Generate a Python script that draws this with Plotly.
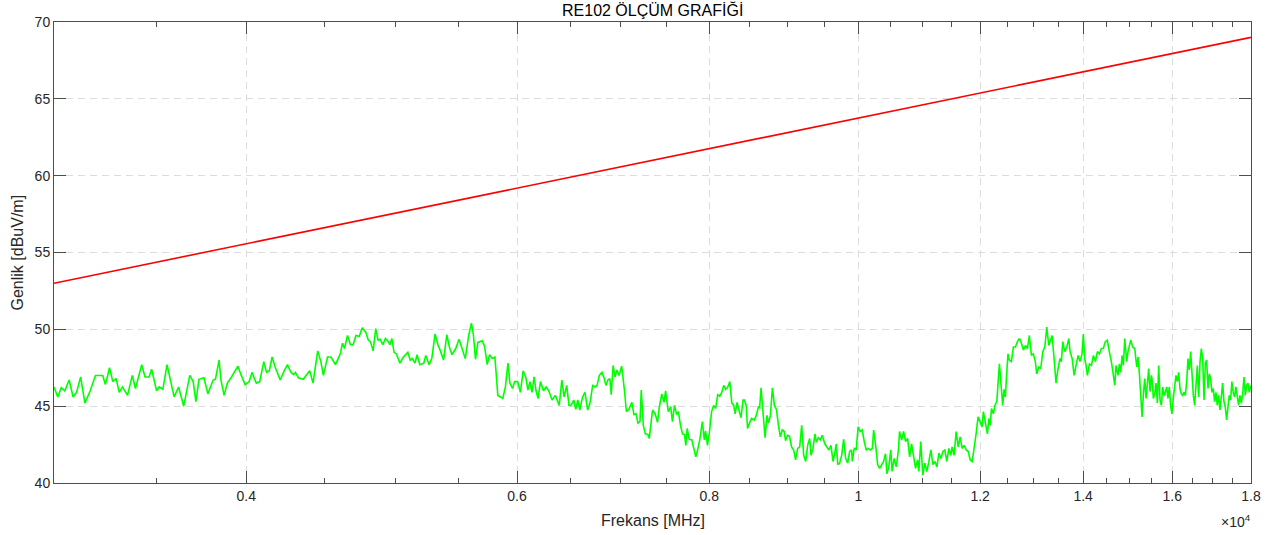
import math
import plotly.graph_objects as go

# Measured RE102 emission sweep (frequency in MHz, level in dBuV/m)
freq_mhz = [
    3000, 3017, 3033, 3049, 3069, 3087, 3103, 3122, 3142, 3167, 3192, 3227, 3240, 3260, 3276, 3292,
    3308, 3324, 3349, 3373, 3389, 3421, 3438, 3459, 3472,
    3498, 3512, 3531, 3553, 3572, 3591, 3615, 3643, 3676, 3695, 3710, 3727, 3755, 3777, 3807, 3820,
    3841, 3852, 3870, 3889, 3913, 3951, 3969, 3994, 4018, 4035,
    4061, 4082, 4107, 4124, 4141, 4158, 4179, 4209, 4234, 4255, 4277, 4294, 4306, 4325, 4357, 4382,
    4399, 4421, 4452, 4473, 4490, 4518, 4541, 4572, 4605, 4620, 4634, 4655, 4676, 4695,
    4714, 4738, 4759, 4785, 4802, 4818, 4837, 4856, 4873, 4889, 4908, 4927, 4949, 4960, 4975, 4991,
    5009, 5035, 5061, 5095, 5113, 5129, 5150, 5166, 5187, 5218, 5234, 5260, 5281, 5307, 5330, 5354,
    5375, 5401, 5422, 5443,
    5474, 5501, 5523, 5552, 5581, 5604, 5621, 5638, 5658, 5695, 5715, 5738, 5758, 5781, 5804, 5830,
    5853, 5873, 5896, 5919, 5936, 5959, 5979, 6005, 6030, 6055, 6080, 6098, 6117, 6136, 6155, 6173,
    6192, 6214, 6242, 6267, 6292, 6323,
    6354, 6373, 6391, 6416, 6438, 6463, 6485, 6504, 6531, 6551, 6571, 6591, 6618, 6642, 6669, 6692,
    6719, 6746, 6763, 6787, 6813, 6837, 6854, 6874, 6894, 6908, 6928, 6948, 6968, 6989, 7017, 7046,
    7067, 7089, 7103, 7125, 7147, 7169, 7190, 7212, 7226, 7248, 7270, 7299, 7313, 7335, 7349,
    7378, 7404, 7422, 7451, 7476, 7494, 7524, 7551, 7571, 7594, 7617, 7640, 7663, 7686, 7709, 7725,
    7740, 7763, 7794, 7817, 7841, 7864, 7887, 7918, 7941, 7956, 7979, 8003, 8028, 8052, 8077, 8102,
    8126, 8151, 8176, 8200, 8225, 8250, 8275, 8299, 8316, 8340, 8365, 8390, 8415, 8431, 8456, 8472,
    8497, 8523,
    8558, 8584, 8610, 8627, 8645, 8671, 8697, 8723, 8741, 8767, 8793, 8819, 8846, 8872, 8898, 8924,
    8950, 8968, 8994, 9021, 9049, 9077, 9104, 9132, 9160, 9187, 9215, 9243, 9270, 9298, 9317, 9344,
    9372, 9391, 9418, 9446, 9474, 9511, 9540, 9570, 9599, 9628, 9657, 9676, 9696, 9725, 9754, 9783,
    9812, 9842, 9871, 9900,
    9910, 9939, 9968, 9997, 10028, 10058, 10089, 10120, 10150, 10181, 10212, 10232, 10263, 10293,
    10324, 10355, 10385, 10416, 10437, 10467, 10498, 10519, 10551, 10584, 10616, 10637, 10669, 10701,
    10734, 10766, 10798, 10830, 10862, 10894, 10927, 10948, 10980, 11013, 11047, 11080, 11114, 11148,
    11181, 11215, 11249, 11282, 11316, 11350, 11383, 11417, 11451, 11484,
    11507, 11542, 11577, 11612, 11647, 11682, 11717, 11753, 11788, 11823, 11858, 11893, 11928, 11963,
    11998, 12035, 12059, 12096, 12132, 12157, 12181, 12206, 12242, 12267, 12304, 12328, 12352, 12377,
    12413, 12438, 12462, 12487, 12511, 12537, 12575, 12613, 12651, 12689, 12728, 12766, 12804, 12842,
    12880, 12918, 12957, 12995, 13034, 13061, 13101, 13140, 13180, 13220, 13259, 13299, 13339,
    13365, 13405, 13444, 13484, 13525, 13552, 13580, 13621, 13662, 13703, 13730, 13772, 13813, 13854,
    13895, 13936, 13977, 14005, 14033, 14062, 14090, 14133, 14175, 14218, 14260, 14303, 14345, 14388,
    14430, 14473, 14516, 14560, 14605, 14649, 14679, 14708, 14752, 14782, 14811, 14841, 14870, 14900,
    14944, 14973, 15003, 15034, 15079, 15125, 15171, 15201, 15231, 15262, 15292, 15323, 15353, 15384,
    15414, 15444, 15475, 15505,
    15521, 15552, 15584, 15615, 15646, 15678, 15709, 15740, 15772, 15803, 15834, 15865, 15897, 15928,
    15959, 15991, 16023, 16055, 16088, 16120, 16153, 16185, 16218, 16250, 16283, 16315, 16348, 16380,
    16413, 16446, 16478, 16511, 16544, 16578, 16611, 16644, 16678, 16711, 16744, 16778, 16811, 16844,
    16878, 16911, 16944, 16978, 17011, 17046, 17080, 17114, 17149, 17183, 17217, 17252, 17286, 17320,
    17355, 17389, 17423, 17458, 17492, 17527, 17563, 17598, 17634, 17669, 17705, 17740, 17776, 17811,
    17847, 17882, 17918, 17953, 18000,
]

level_dbuv = [
    46.25, 45.6, 46.2, 46.0, 46.7, 45.6, 45.9, 46.9, 45.2, 46.0, 47.0, 47.0, 46.4, 47.5, 46.6, 46.8,
    45.9, 46.25, 45.7, 47.0, 46.15, 47.7, 46.9, 46.9, 47.4,
    46.0, 46.25, 46.1, 47.7, 46.6, 45.6, 46.25, 45.0, 47.0, 46.6, 45.3, 46.75, 46.85, 45.8, 46.7, 46.75,
    48.0, 46.7, 45.7, 46.5, 46.9, 47.6, 47.05, 46.4, 46.6, 47.2,
    46.5, 46.6, 47.9, 47.2, 47.3, 48.2, 47.5, 46.7, 47.3, 47.7, 47.2, 47.05, 47.2, 46.85, 46.75, 47.1,
    47.3, 46.5, 48.6, 47.9, 47.0, 48.2, 48.2, 47.7, 48.4, 49.1, 48.75, 49.6, 49.0, 49.0,
    49.6, 49.55, 50.1, 49.8, 49.3, 49.2, 48.6, 50.05, 49.3, 49.35, 49.0, 49.4, 49.2, 49.0, 49.4, 48.5,
    48.4, 47.8, 48.2, 48.5, 48.0, 48.1, 47.8, 48.35, 47.7, 47.8, 48.3, 47.7, 48.1, 49.7, 49.0, 48.5,
    48.0, 49.65, 48.85, 48.35,
    48.75, 49.35, 48.85, 48.1, 49.6, 50.4, 49.6, 48.05, 49.15, 49.25, 48.9, 47.7, 48.35, 48.1, 48.2, 45.7,
    45.6, 45.5, 46.25, 47.8, 46.5, 46.15, 46.6, 46.6, 45.9, 47.3, 46.85, 46.05, 46.6, 45.9, 46.9, 46.0,
    45.5, 46.6, 46.0, 46.25, 46.0, 45.4,
    45.7, 45.4, 45.05, 46.7, 45.6, 46.35, 45.05, 45.05, 45.4, 44.8, 45.4, 44.75, 45.6, 45.9, 44.75, 45.2,
    46.35, 46.25, 46.35, 47.0, 47.2, 46.8, 46.35, 46.7, 46.8, 45.75, 47.65, 46.9, 47.35, 47.0, 47.6, 46.05,
    44.65, 44.75, 44.95, 45.25, 44.45, 44.5, 43.9, 44.0, 46.05, 43.75, 43.2, 43.15, 42.9, 43.9, 44.75,
    44.5, 43.95, 44.85, 45.8, 45.25, 46.0, 44.65, 44.95, 44.0, 45.05, 44.5, 44.6, 43.75, 43.2, 43.15, 42.45,
    43.55, 42.85, 42.8, 42.25, 41.7, 42.2, 42.8, 44.0, 42.8, 43.4, 42.45, 43.35, 44.65, 45.05, 44.85, 45.75,
    45.65, 45.9, 46.35, 46.1, 46.25, 46.6, 45.2, 45.05, 44.5, 45.25, 44.75, 44.25, 45.4, 45.4, 45.05, 43.55,
    43.9, 44.2,
    44.1, 44.4, 44.95, 44.9, 46.2, 44.4, 42.95, 44.4, 43.9, 44.4, 46.2, 45.05, 44.8, 43.8, 43.0, 43.45,
    43.35, 42.75, 43.1, 43.05, 42.35, 42.15, 41.5, 42.25, 42.35, 43.75, 41.8, 41.4, 42.45, 42.9, 41.8, 42.25,
    43.2, 42.65, 42.95, 42.8, 43.1, 42.55, 42.35, 42.15, 42.45, 41.4, 42.05, 42.55, 41.2, 41.3, 41.8, 42.85,
    41.6, 41.3, 42.05, 42.15,
    41.4, 42.25, 42.15, 43.65, 43.35, 43.45, 42.7, 42.15, 42.25, 42.15, 42.25, 43.45, 42.45, 41.2,
    40.95, 41.2, 41.4, 41.9, 40.6, 41.05, 42.15, 40.75, 41.6, 41.05, 42.05, 43.35, 42.8, 43.35,
    42.7, 42.9, 41.7, 42.55, 41.6, 40.95, 41.5, 40.75, 42.7, 40.5, 41.3, 40.75, 41.4, 42.15,
    41.2, 41.4, 41.05, 41.95, 41.6, 42.05, 42.15, 41.4, 42.25, 41.8,
    42.35, 41.8, 43.35, 42.35, 43.0, 42.25, 42.45, 42.15, 42.05, 41.5, 41.4, 42.25, 43.2, 44.3,
    43.95, 43.65, 44.65, 43.9, 43.2, 44.2, 43.75, 44.85, 44.5, 45.05, 45.3, 46.6, 47.75, 46.6,
    45.05, 46.1, 45.6, 47.1, 48.4, 48.0, 47.9, 48.85, 48.85, 49.2, 49.4, 49.1, 48.65, 48.95,
    48.75, 49.6, 48.3, 48.4, 47.9, 47.1, 47.55, 47.45, 48.55, 48.85, 50.15, 48.95, 49.3,
    49.6, 48.1, 46.5, 47.45, 48.1, 47.9, 49.2, 48.55, 48.85, 49.4, 48.55, 48.1, 47.0, 47.65,
    48.3, 47.9, 48.4, 49.7, 48.1, 47.65, 47.0, 47.75, 47.65, 48.3, 47.9, 48.55, 48.4, 48.75,
    48.75, 49.2, 49.3, 48.55, 47.9, 47.0, 46.35, 47.65, 47.0, 47.75, 47.2, 48.3, 47.65, 49.4,
    47.9, 48.55, 48.95, 49.3, 48.85, 48.75, 47.55, 48.2, 47.1, 45.7, 44.3, 45.8, 46.8, 45.5,
    46.35, 47.45, 45.95, 47.0,
    46.8, 45.5, 45.8, 46.5, 45.2, 47.65, 45.4, 45.05, 46.25, 45.7, 45.9, 46.25, 45.5, 46.25,
    45.05, 44.5, 45.5, 46.15, 47.0, 46.6, 47.2, 46.15, 45.8, 45.7, 45.9, 45.7, 46.6, 48.1,
    47.35, 48.55, 46.9, 45.7, 45.05, 46.8, 47.65, 45.6, 47.9, 48.75, 48.1, 45.4, 47.8, 48.0,
    46.15, 47.1, 46.8, 45.9, 46.15, 45.3, 45.9, 45.05, 45.7, 44.75, 45.5, 46.5, 45.3, 44.95,
    44.1, 45.05, 45.7, 45.4, 46.6, 45.9, 45.6, 46.25, 45.5, 45.05, 45.7, 45.2, 45.7, 46.9,
    45.7, 46.35, 46.5, 45.9, 46.35,
]

# RE102 limit line
limit_freq_mhz = [3000, 18000]
limit_dbuv = [53, 69]

# Axis ticks (frequency shown in units of 10^4 MHz)
x_major = [4000, 6000, 8000, 10000, 12000, 14000, 16000, 18000]
x_major_text = ["0.4", "0.6", "0.8", "1", "1.2", "1.4", "1.6", "1.8"]
x_minor = [3500, 4500, 5000, 5500, 6500, 7000, 7500, 8500, 9000, 9500, 10500, 11000,
           11500, 12500, 13000, 13500, 14500, 15000, 15500, 16500, 17000, 17500]
y_ticks = [40, 45, 50, 55, 60, 65, 70]

FONT = "Liberation Sans, Arial, sans-serif"
INK = "#262626"
AXIS = "#4d4d4d"
GRID = "#dcdcdc"
DASH = "7px,5px"

fig = go.Figure()
fig.add_trace(go.Scatter(x=freq_mhz, y=level_dbuv, mode="lines",
                         line=dict(color="#00ff00", width=1.6), showlegend=False))
fig.add_trace(go.Scatter(x=limit_freq_mhz, y=limit_dbuv, mode="lines",
                         line=dict(color="#ff0000", width=1.6), showlegend=False))

fig.update_layout(
    width=1282, height=535,
    margin=dict(l=54, r=31, t=22, b=52),
    paper_bgcolor="white", plot_bgcolor="white",
    font=dict(family=FONT, size=14, color=INK),
    showlegend=False,
)

fig.update_xaxes(
    type="log",
    range=[math.log10(3000), math.log10(18000)],
    tickmode="array", tickvals=x_major, ticktext=x_major_text,
    ticks="inside", ticklen=12, tickwidth=1, tickcolor=AXIS,
    showline=True, linecolor=AXIS, linewidth=1, mirror="ticks",
    showgrid=True, gridcolor=GRID, griddash=DASH, gridwidth=1,
    zeroline=False,
    minor=dict(tickmode="array", tickvals=x_minor, ticks="inside", ticklen=5,
               tickcolor=AXIS, showgrid=False),
    tickfont=dict(size=14, color=INK),
)
fig.update_yaxes(
    range=[40, 70],
    tickmode="array", tickvals=y_ticks,
    ticks="inside", ticklen=12, tickwidth=1, tickcolor=AXIS,
    showline=True, linecolor=AXIS, linewidth=1, mirror="ticks",
    showgrid=True, gridcolor=GRID, griddash=DASH, gridwidth=1,
    zeroline=False,
    tickfont=dict(size=14, color=INK),
)

fig.add_annotation(text="RE102 ÖLÇÜM GRAFİĞİ", xref="paper", yref="paper", x=0.5, y=1,
                   xanchor="center", yanchor="middle", yshift=12, showarrow=False,
                   font=dict(size=16, color="black", family=FONT))
fig.add_annotation(text="Frekans [MHz]", xref="paper", yref="paper", x=0.5, y=0,
                   xanchor="center", yanchor="middle", yshift=-37, showarrow=False,
                   font=dict(size=16, color=INK, family=FONT))
fig.add_annotation(text="Genlik [dBuV/m]", xref="paper", yref="paper", x=0, y=0.5,
                   xanchor="center", yanchor="middle", xshift=-37, textangle=-90,
                   showarrow=False, font=dict(size=16, color=INK, family=FONT))
fig.add_annotation(text="×10<sup>4</sup>", xref="paper", yref="paper", x=1, y=0,
                   xanchor="right", yanchor="middle", yshift=-38, xshift=2, showarrow=False,
                   font=dict(size=14, color=INK, family=FONT))

fig.write_html("out.html")
